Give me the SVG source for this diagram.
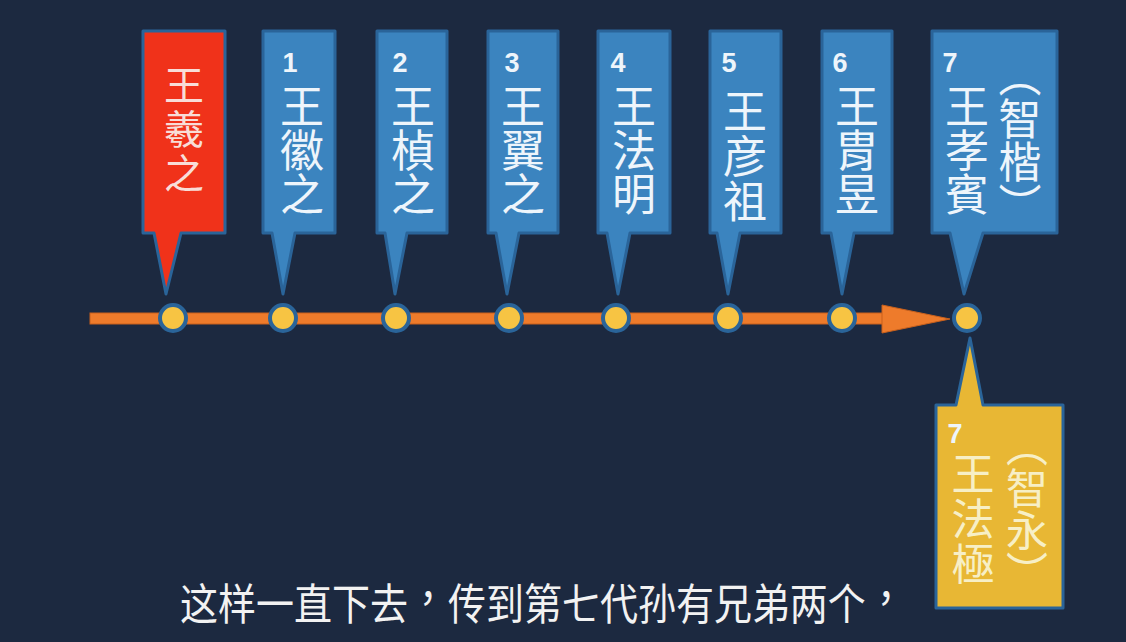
<svg xmlns="http://www.w3.org/2000/svg" width="1126" height="642" viewBox="0 0 1126 642">
<defs>
<style>
.bg{fill:#1c2940}
.cb{fill:#3b84bf;stroke:#2a6499;stroke-width:3;stroke-linejoin:round}
.cr{fill:#f0321a;stroke:#2a6499;stroke-width:3;stroke-linejoin:round}
.cy{fill:#e8b734;stroke:#2a6499;stroke-width:3;stroke-linejoin:round}
.v{font-family:"Noto Sans CJK TC","Noto Sans CJK SC",sans-serif;font-size:44px;fill:#eef5fb;writing-mode:vertical-rl;text-anchor:start}
.vr{fill:#f8ddd8}
.vy{fill:#f7efc6}
.num{font-family:"Liberation Sans","DejaVu Sans",sans-serif;font-weight:bold;font-size:27px;fill:#eef5fb;text-anchor:middle}
.dot{fill:#f7c443;stroke:#2a6499;stroke-width:4}
.cap{font-family:"Noto Sans CJK TC","Noto Sans CJK SC",sans-serif;font-size:38px;fill:#f2f2f2}
</style>
</defs>
<rect class="bg" x="0" y="0" width="1126" height="642"/>

<g id="connectors">
<rect x="90" y="313" width="794" height="11" fill="#ee7b2b" stroke="#c8601c" stroke-width="1"/>
<polygon points="882,305 950,319 882,333" fill="#ee7b2b" stroke="#c8601c" stroke-width="1"/>
</g>

<g id="dots">
<circle class="dot" cx="173" cy="318" r="13"/>
<circle class="dot" cx="283" cy="318" r="13"/>
<circle class="dot" cx="396" cy="318" r="13"/>
<circle class="dot" cx="509" cy="318" r="13"/>
<circle class="dot" cx="616" cy="318" r="13"/>
<circle class="dot" cx="728" cy="318" r="13"/>
<circle class="dot" cx="842" cy="318" r="13"/>
<circle class="dot" cx="967" cy="318" r="13"/>
</g>

<g id="node-wangxizhi">
<path class="cr" d="M143,31 H225 V233 H181 L166,294 L154,233 H143 Z"/>
<text class="v vr" x="184" y="65" style="font-size:40px;letter-spacing:4px">王羲之</text>
</g>

<g id="node-1">
<path class="cb" d="M263,31 H335 V233 H295 L283,294 L272,233 H263 Z"/>
<text class="num" x="290" y="72">1</text>
<text class="v" x="302" y="84">王徽之</text>
</g>

<g id="node-2">
<path class="cb" d="M377,31 H447 V233 H407 L395,294 L385,233 H377 Z"/>
<text class="num" x="400" y="72">2</text>
<text class="v" x="413" y="84">王楨之</text>
</g>

<g id="node-3">
<path class="cb" d="M488,31 H558 V233 H519 L507,294 L496,233 H488 Z"/>
<text class="num" x="512" y="72">3</text>
<text class="v" x="523" y="84">王翼之</text>
</g>

<g id="node-4">
<path class="cb" d="M598,31 H670 V233 H630 L618,294 L607,233 H598 Z"/>
<text class="num" x="618" y="72">4</text>
<text class="v" x="634" y="84">王法明</text>
</g>

<g id="node-5">
<path class="cb" d="M710,31 H781 V233 H740 L728,294 L717,233 H710 Z"/>
<text class="num" x="729" y="72">5</text>
<text class="v" x="745" y="89" style="letter-spacing:1px">王彦祖</text>
</g>

<g id="node-6">
<path class="cb" d="M822,31 H892 V233 H854 L842,294 L831,233 H822 Z"/>
<text class="num" x="840" y="72">6</text>
<text class="v" x="857" y="84">王胄昱</text>
</g>

<g id="node-7a">
<path class="cb" d="M932,31 H1057 V233 H983 L964,294 L950,233 H932 Z"/>
<text class="num" x="950" y="72">7</text>
<text class="v" x="967" y="84">王孝賓</text>
<text class="v" x="1020" y="54" style="font-size:43px">（智楷）</text>
</g>

<g id="node-7b">
<path class="cy" d="M936,405 H956 L970,338 L983,405 H1063 V608 H936 Z"/>
<text class="num vy" x="955" y="443">7</text>
<text class="v vy" x="973" y="452" style="font-size:43px;letter-spacing:2px">王法極</text>
<text class="v vy" x="1027" y="425" style="font-size:42px">（智永）</text>
</g>

<g id="caption" transform="translate(0,620) scale(1,1.13)">
<text class="cap" x="180" y="0">这样一直下去</text>
<text class="cap" x="409" y="-5">，</text>
<text class="cap" x="448" y="0">传到第七代孙有兄弟两个</text>
<text class="cap" x="867" y="-5">，</text>
</g>
</svg>
